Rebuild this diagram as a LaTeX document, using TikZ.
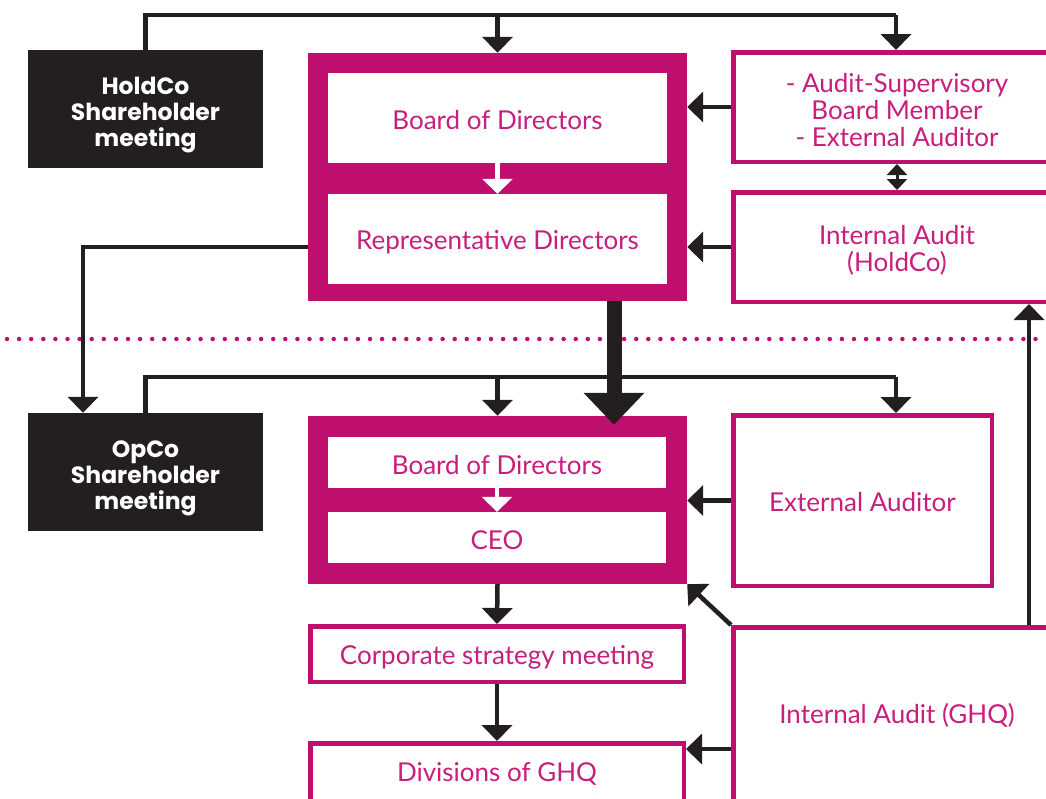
\documentclass[tikz,border=0pt]{standalone}
\usepackage{fontspec}
\setmainfont{Lato}
\newfontfamily\boldfam{Poppins}
\usetikzlibrary{arrows.meta}
\definecolor{pinkc}{RGB}{190,15,111}
\definecolor{pinkt}{RGB}{200,30,125}
\definecolor{darkc}{RGB}{35,31,32}
\tikzset{
  darkbox/.style={fill=darkc, draw=none, inner sep=0pt, minimum width=235pt, minimum height=118pt},
  darktext/.style={text=white, inner sep=0pt, align=center,
    font=\boldfam\fontsize{23.5}{26}\selectfont\bfseries},
  frame/.style={fill=pinkc, draw=none, inner sep=0pt},
  innerbox/.style={fill=white, draw=none, inner sep=0pt},
  pbox/.style={fill=white, draw=pinkc, line width=4.5pt, inner sep=0pt},
  ptext/.style={text=pinkt, inner sep=0pt, align=center, font=\fontsize{26}{27}\selectfont},
  conn/.style={draw=darkc, line width=4.5pt},
  arr/.style={conn, -{Triangle[width=30pt,length=16pt]}},
  warr/.style={draw=white, line width=4.5pt, -{Triangle[width=30pt,length=15pt]}},
  darr/.style={draw=darkc, line width=3pt, {Triangle[width=20pt,length=11pt]}-{Triangle[width=20pt,length=11pt]}},
  bigarr/.style={draw=darkc, line width=15pt, -{Triangle[width=59pt,length=32pt]}},
}
\begin{document}
\begin{tikzpicture}[x=1pt,y=-1pt]
\useasboundingbox (0,0) rectangle (1046,798);
\clip (0,0) rectangle (1046,798);
% dotted separator
\draw[pinkc, line width=4.5pt, dash pattern=on 0pt off 12.1pt, line cap=round] (7,339) -- (1046,339);

% HoldCo level
\node[darkbox] (hold) at (145.5,109) {};
\node[frame, minimum width=379pt, minimum height=248pt] (topframe) at (497.5,177) {};
\node[innerbox, minimum width=339pt, minimum height=90pt] (bod1) at (497.5,118) {};
\node[innerbox, minimum width=339pt, minimum height=90pt] (rep) at (497.5,239) {};
\node[pbox, minimum width=327.5pt, minimum height=109.5pt] (asb) at (897,107) {};
\node[pbox, minimum width=327.5pt, minimum height=109.5pt] (iah) at (897,247) {};

% OpCo level
\node[darkbox] (opco) at (145.5,472) {};
\node[frame, minimum width=379pt, minimum height=168pt] (botframe) at (497.5,500) {};
\node[innerbox, minimum width=338pt, minimum height=51pt] (bod2) at (497,462.5) {};
\node[innerbox, minimum width=338pt, minimum height=51pt] (ceo) at (497,537.5) {};
\node[pbox, minimum width=258.5pt, minimum height=170.5pt] (ext) at (862.5,500.5) {};
\node[pbox, minimum width=373.5pt, minimum height=55.5pt] (csm) at (497,654) {};
\node[pbox, minimum width=373.5pt, minimum height=59.5pt] (div) at (497,773) {};
\node[pbox, minimum width=327.5pt, minimum height=173.5pt] (iag) at (897,714) {};

% texts
\node[darktext] (holdt) at ([yshift=-6pt]hold.center) {HoldCo\\Shareholder\\meeting};
\node[darktext] (opcot) at ([yshift=-6pt]opco.center) {OpCo\\Shareholder\\meeting};
\node[ptext] (bod1t) at ([yshift=-2.5pt]bod1.center) {Board of Directors};
\node[ptext] (rept) at ([yshift=-3pt]rep.center) {Representative Directors};
\node[ptext] (asbt) at ([yshift=-3pt]asb.center) {- Audit-Supervisory\\Board Member\\- External Auditor};
\node[ptext] (iaht) at ([yshift=-3.5pt]iah.center) {Internal Audit\\(HoldCo)};
\node[ptext] (bod2t) at ([yshift=-3pt]bod2.center) {Board of Directors};
\node[ptext] (ceot) at ([yshift=-3pt]ceo.center) {CEO};
\node[ptext] (extt) at ([yshift=-2pt]ext.center) {External Auditor};
\node[ptext] (csmt) at ([yshift=-3.5pt]csm.center) {Corporate strategy meeting};
\node[ptext] (divt) at ([yshift=-1pt]div.center) {Divisions of GHQ};
\node[ptext] (iagt) at ([yshift=-1pt]iag.center) {Internal Audit (GHQ)};

% top connector
\coordinate (tj) at (896,15);
\draw[conn] (hold.north) |- (tj);
\draw[arr] (tj) -- (tj |- asb.north);
\draw[arr] (topframe.north |- tj) -- (topframe.north);
% right to top frame
\draw[arr] (asb.west) -- (asb.west -| topframe.east);
\draw[arr] (iah.west) -- (iah.west -| topframe.east);
\draw[darr] (asb.south) -- (iah.south |- iah.north);
% white arrows
\draw[warr] (bod1.south) -- (rep.north);
\draw[warr] (bod2.south) -- (ceo.north);
% rep directors to OpCo shareholders
\draw[arr] (topframe.west |- iah.west) -| ([xshift=-62.5pt]opco.north);
% OpCo connector
\coordinate (oj) at (896,377);
\draw[conn] (opco.north) |- (oj);
\draw[arr] (oj) -- (oj |- ext.north);
\draw[arr] (botframe.north |- oj) -- (botframe.north);
% big arrow
\draw[bigarr] ([xshift=116.5pt]topframe.south) -- ([xshift=116.5pt,yshift=-9pt]botframe.north);
% external auditor
\draw[arr] (ext.west) -- (ext.west -| botframe.east);
% chain down
\draw[arr] (botframe.south) -- (csm.north);
\draw[arr] (csm.south) -- (div.north);
% internal audit GHQ
\draw[arr] (iag.north west) -- (botframe.south east);
\draw[arr] ([yshift=-35pt]iag.west) -- ([yshift=-35pt]iag.west -| div.east);
\draw[arr] ([xshift=132pt]iag.north) -- ([xshift=132pt]iah.south);
\end{tikzpicture}
\end{document}
